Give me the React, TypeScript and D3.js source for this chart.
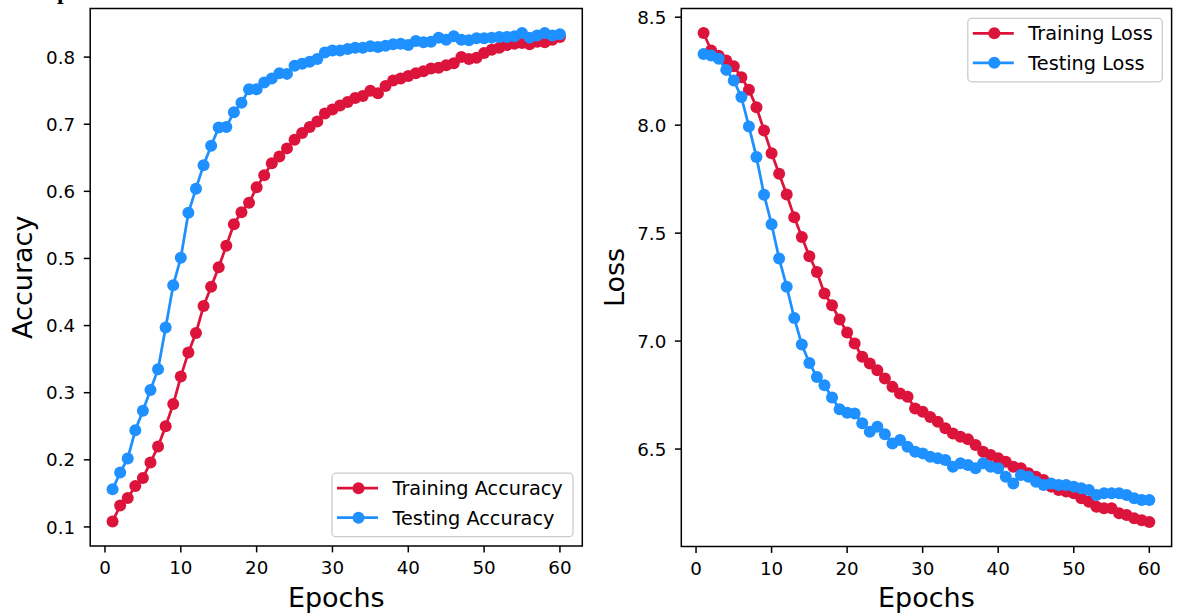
import React from "react";
import { scaleLinear, line, extent, format } from "d3";

const epochs = Array.from({ length: 60 }, (_, i) => i + 1);

const trainAcc = [
  0.108, 0.132, 0.143, 0.161, 0.173, 0.196, 0.22, 0.25, 0.283, 0.324,
  0.36, 0.389, 0.429, 0.458, 0.487, 0.519, 0.551, 0.569, 0.583, 0.606,
  0.624, 0.642, 0.652, 0.664, 0.677, 0.687, 0.696, 0.704, 0.716, 0.722,
  0.728, 0.733, 0.739, 0.742, 0.75, 0.746, 0.757, 0.765, 0.768, 0.772,
  0.776, 0.779, 0.783, 0.784, 0.788, 0.791, 0.8, 0.797, 0.799, 0.806,
  0.811, 0.814, 0.818, 0.82, 0.821, 0.819, 0.823, 0.822, 0.826, 0.83,
];
const testAcc = [
  0.156, 0.181, 0.202, 0.244, 0.273, 0.304, 0.335, 0.397, 0.46, 0.501,
  0.568, 0.604, 0.639, 0.668, 0.695, 0.696, 0.718, 0.732, 0.752, 0.752,
  0.762, 0.768, 0.776, 0.775, 0.787, 0.79, 0.793, 0.797, 0.807, 0.81,
  0.81, 0.812, 0.814, 0.814, 0.816, 0.815, 0.817, 0.819, 0.82, 0.818,
  0.824, 0.822, 0.823, 0.829, 0.826, 0.831, 0.826, 0.825, 0.828, 0.828,
  0.829, 0.83, 0.83, 0.831, 0.836, 0.829, 0.832, 0.836, 0.832, 0.834,
];
const trainLoss = [
  8.427, 8.346, 8.322, 8.299, 8.273, 8.222, 8.164, 8.083, 7.975, 7.87,
  7.775, 7.679, 7.574, 7.482, 7.393, 7.32, 7.22, 7.166, 7.1, 7.04,
  6.989, 6.927, 6.896, 6.865, 6.827, 6.788, 6.757, 6.742, 6.688, 6.673,
  6.649, 6.626, 6.596, 6.572, 6.557, 6.545, 6.519, 6.488, 6.472, 6.457,
  6.441, 6.418, 6.411, 6.388, 6.372, 6.357, 6.326, 6.31, 6.303, 6.295,
  6.272, 6.256, 6.233, 6.226, 6.226, 6.203, 6.195, 6.179, 6.17, 6.162,
];
const testLoss = [
  8.33, 8.323, 8.307, 8.256, 8.207, 8.13, 7.994, 7.852, 7.678, 7.541,
  7.382, 7.252, 7.107, 6.984, 6.899, 6.834, 6.796, 6.739, 6.684, 6.668,
  6.665, 6.619, 6.58, 6.603, 6.569, 6.526, 6.542, 6.511, 6.488, 6.48,
  6.464, 6.457, 6.449, 6.418, 6.434, 6.426, 6.411, 6.434, 6.418, 6.411,
  6.372, 6.341, 6.38, 6.372, 6.349, 6.334, 6.341, 6.334, 6.334, 6.326,
  6.318, 6.31, 6.287, 6.295, 6.295, 6.295, 6.287, 6.272, 6.264, 6.264,
];

const RED = "#DC143C";
const BLUE = "#1E90FF";
const FONT = "'DejaVu Sans', sans-serif";
const TICK = 18.3;
const LEGEND = 19.3;
const LABEL = 27;

type Series = { name: string; values: number[]; color: string };

// matplotlib style 5% padding
const padded = (vals: number[]) => {
  const [lo, hi] = extent(vals) as [number, number];
  const m = (hi - lo) * 0.05;
  return [lo - m, hi + m];
};

const Panel = ({ left, right, top, bottom, series, ylabel, ylabelX, yTickCount, legendLoc }: {
  left: number; right: number; top: number; bottom: number;
  series: Series[]; ylabel: string; ylabelX: number; yTickCount: number; legendLoc: "lr" | "ur";
}) => {
  const x = scaleLinear().domain(padded(epochs)).range([left, right]);
  const y = scaleLinear()
    .domain(padded(series.flatMap((s) => s.values)))
    .range([bottom, top]);
  const path = line<number>()
    .x((_, i) => x(epochs[i]))
    .y((d) => y(d));
  const fmt = format(".1f");

  const legW = legendLoc === "lr" ? 241 : 194.5;
  const legH = 63.5;
  const legX = right - 9.3 - legW;
  const legY = legendLoc === "lr" ? bottom - 9.3 - legH : top + 9.8;

  return (
    <g fontFamily={FONT}>
      {series.map((s) => (
        <g key={s.name}>
          <path d={path(s.values) ?? ""} fill="none" stroke={s.color} strokeWidth={2.75} />
          {s.values.map((v, i) => (
            <circle key={i} cx={x(epochs[i])} cy={y(v)} r={6} fill={s.color} />
          ))}
        </g>
      ))}
      <rect x={left} y={top} width={right - left} height={bottom - top} fill="none" stroke="#000" strokeWidth={1.5} />
      {x.ticks(7).map((t) => (
        <g key={t}>
          <line x1={x(t)} x2={x(t)} y1={bottom} y2={bottom + 6.4} stroke="#000" strokeWidth={1.5} />
          <text x={x(t)} y={bottom + 28} textAnchor="middle" fontSize={TICK}>{t}</text>
        </g>
      ))}
      {y.ticks(yTickCount).map((t) => (
        <g key={t}>
          <line x1={left - 6.4} x2={left} y1={y(t)} y2={y(t)} stroke="#000" strokeWidth={1.5} />
          <text x={left - 15} y={y(t) + 6.6} textAnchor="end" fontSize={TICK}>{fmt(t)}</text>
        </g>
      ))}
      <text x={(left + right) / 2} y={607} textAnchor="middle" fontSize={LABEL}>Epochs</text>
      <text transform={`translate(${ylabelX},${(top + bottom) / 2}) rotate(-90)`} textAnchor="middle" fontSize={LABEL}>{ylabel}</text>
      <rect x={legX} y={legY} width={legW} height={legH} rx={4} fill="#fff" fillOpacity={0.8} stroke="#cccccc" strokeWidth={1.3} />
      {series.map((s, i) => {
        const ry = legY + 15 + i * 29.5;
        return (
          <g key={s.name}>
            <line x1={legX + 5} x2={legX + 46} y1={ry} y2={ry} stroke={s.color} strokeWidth={2.75} />
            <circle cx={legX + 26.5} cy={ry} r={6} fill={s.color} />
            <text x={legX + 60.5} y={ry + 7} fontSize={LEGEND}>{s.name}</text>
          </g>
        );
      })}
    </g>
  );
};

export default function App() {
  return (
    <svg width={1182} height={616} style={{ position: "absolute", left: 0, top: 0, background: "#fff" }}>
      <text x={57} y={-1.5} fontFamily="'Liberation Serif', serif" fontWeight="bold" fontSize={24}>p</text>
      <Panel
        left={90.2} right={582.3} top={8.5} bottom={546}
        series={[
          { name: "Training Accuracy", values: trainAcc, color: RED },
          { name: "Testing Accuracy", values: testAcc, color: BLUE },
        ]}
        ylabel="Accuracy" ylabelX={31.5} yTickCount={8} legendLoc="lr"
      />
      <Panel
        left={681.3} right={1171.6} top={8.5} bottom={546.5}
        series={[
          { name: "Training Loss", values: trainLoss, color: RED },
          { name: "Testing Loss", values: testLoss, color: BLUE },
        ]}
        ylabel="Loss" ylabelX={623.5} yTickCount={5} legendLoc="ur"
      />
    </svg>
  );
}
